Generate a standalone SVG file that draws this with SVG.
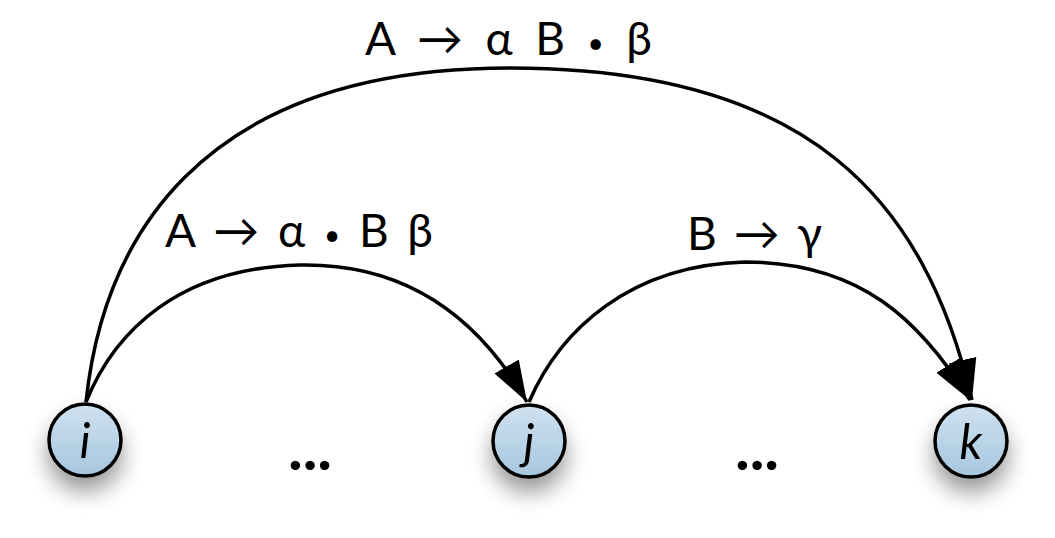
<svg xmlns="http://www.w3.org/2000/svg" width="1055" height="538" viewBox="0 0 1055 538">
<defs>
<linearGradient id="nodeFill" x1="0" y1="0" x2="0" y2="1">
<stop offset="0" stop-color="#cfe2f0"/>
<stop offset="1" stop-color="#a6c6de"/>
</linearGradient>
<filter id="shadow" x="-80%" y="-80%" width="260%" height="280%">
<feGaussianBlur in="SourceAlpha" stdDeviation="11"/>
<feOffset dx="0" dy="14" result="b"/>
<feComponentTransfer><feFuncA type="linear" slope="0.4"/></feComponentTransfer>
<feMerge><feMergeNode/><feMergeNode in="SourceGraphic"/></feMerge>
</filter>
<marker id="arrow" markerUnits="userSpaceOnUse" markerWidth="44" markerHeight="32" viewBox="0 0 44 32" refX="41" refY="16" orient="auto">
<path d="M0,2 L41,16 L0,30 Z" fill="#000"/>
</marker>
</defs>
<style>
.node circle{fill:url(#nodeFill);stroke:#000;stroke-width:3.5}
.node text{font-family:Lato,"Open Sans",sans-serif;font-style:italic;font-size:48px;fill:#000;text-anchor:middle}
.edge{fill:none;stroke:#000;stroke-width:3.5}
.lbl{font-family:Lato,"Open Sans",sans-serif;font-size:46px;fill:#000}
.bul{font-size:28px}
.dots{font-family:Lato,"Open Sans",sans-serif;font-size:62px;font-weight:bold;fill:#000;text-anchor:middle}
</style>
<g id="connectors">
<path class="edge" d="M86,402 C102,250 190,68 510,68 C810,68 925,200 972,400" marker-end="url(#arrow)"/>
<path class="edge" d="M86,402 C115,330 180,268 300,265 C410,263 480,320 527,402" marker-end="url(#arrow)"/>
<path class="edge" d="M529,402 C560,330 630,265 745,262 C860,262 920,320 970,400" marker-end="url(#arrow)"/>
</g>
<g id="node-i" class="node" filter="url(#shadow)">
<circle cx="85" cy="440" r="36"/>
<text x="85" y="458">i</text>
</g>
<g id="node-j" class="node" filter="url(#shadow)">
<circle cx="529" cy="441" r="36"/>
<text x="529" y="459">j</text>
</g>
<g id="node-k" class="node" filter="url(#shadow)">
<circle cx="971" cy="441" r="36"/>
<text x="971" y="459">k</text>
</g>
<g id="labels">
<text class="lbl" x="365" y="55" textLength="287" lengthAdjust="spacing">A → α B <tspan class="bul" dy="-2">•</tspan><tspan dy="2">  β</tspan></text>
<text class="lbl" x="165" y="247" textLength="268" lengthAdjust="spacing">A → α <tspan class="bul" dy="-2">•</tspan><tspan dy="2"> B β</tspan></text>
<text class="lbl" x="687" y="250" textLength="135" lengthAdjust="spacing">B → γ</text>
<text class="dots" x="310" y="470">...</text>
<text class="dots" x="757" y="470">...</text>
</g>
</svg>
